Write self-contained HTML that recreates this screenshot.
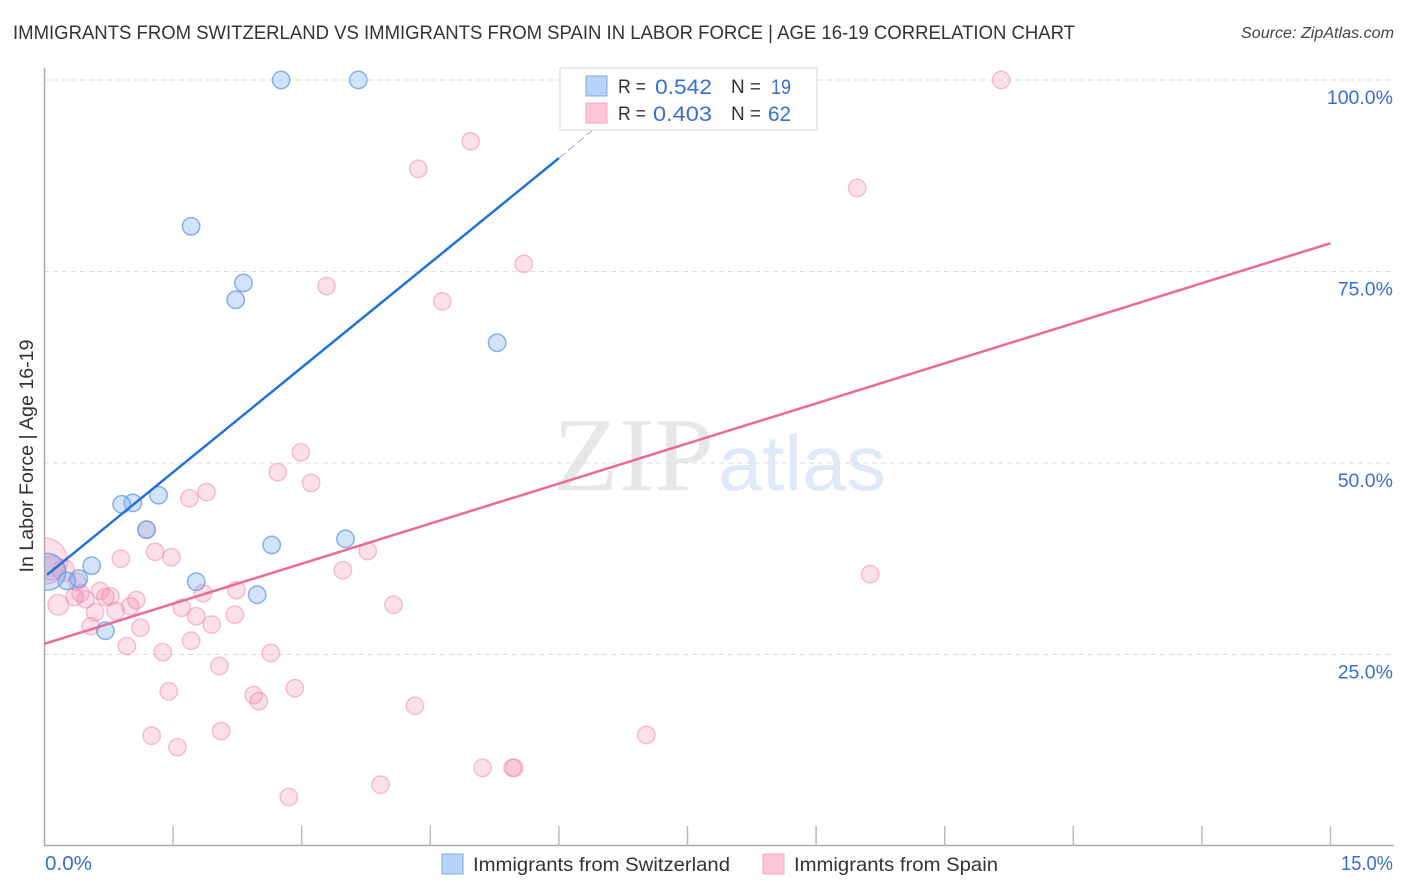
<!DOCTYPE html>
<html lang="en">
<head>
<meta charset="utf-8">
<title>Immigrants from Switzerland vs Immigrants from Spain in Labor Force | Age 16-19 Correlation Chart</title>
<style>
  html, body { margin: 0; padding: 0; background: #fff; }
  svg { display: block; font-family: "Liberation Sans", sans-serif; }
</style>
</head>
<body>
<svg id="chart" xmlns="http://www.w3.org/2000/svg" width="1406" height="892" viewBox="0 0 1406 892">
  <rect x="0" y="0" width="1406" height="892" fill="#fff"></rect>
  <text x="13" y="39" font-size="19.5" fill="#333" textLength="1062" lengthAdjust="spacingAndGlyphs">IMMIGRANTS FROM SWITZERLAND VS IMMIGRANTS FROM SPAIN IN LABOR FORCE | AGE 16-19 CORRELATION CHART</text>
  <text x="1241" y="38" font-size="15.5" font-style="italic" fill="#444" textLength="153" lengthAdjust="spacingAndGlyphs">Source: ZipAtlas.com</text>
  <g>
    <text x="553" y="490" font-family="'Liberation Serif', serif" font-size="105" fill="#e7e7e7" textLength="161" lengthAdjust="spacingAndGlyphs">ZIP</text>
    <text x="718" y="490" font-size="78" fill="#dfe9f8" textLength="168" lengthAdjust="spacingAndGlyphs">atlas</text>
  </g>
  <g id="grid"></g>
  <g id="pink-points"></g>
  <g id="blue-points"></g>
  <rect x="0" y="520" width="44" height="100" fill="#fff"></rect>
  <g id="axes"></g>
  <g id="trends"></g>
  <g id="labels"></g>
  <text transform="translate(33,456) rotate(-90)" font-size="19.5" fill="#333" text-anchor="middle" textLength="233" lengthAdjust="spacingAndGlyphs">In Labor Force | Age 16-19</text>

  <g>
    <rect x="560" y="68" width="257" height="62" fill="#fff" fill-opacity="0.9" stroke="#e2e2e2" stroke-width="1.5"></rect>
    <rect x="586" y="76" width="21" height="20" fill="#b9d3f8" stroke="#7ea9e1" stroke-width="1"></rect>
    <rect x="586" y="103" width="21" height="20" fill="#fdc7d7" stroke="#f3a7c1" stroke-width="1"></rect>
    <g font-size="19" fill="#333">
      <text x="618" y="93" textLength="28" lengthAdjust="spacingAndGlyphs">R =</text>
      <text x="618" y="120" textLength="28" lengthAdjust="spacingAndGlyphs">R =</text>
      <text x="731" y="93" textLength="30" lengthAdjust="spacingAndGlyphs">N =</text>
      <text x="731" y="120" textLength="30" lengthAdjust="spacingAndGlyphs">N =</text>
    </g>
    <g font-size="21" fill="#3a6fd0">
      <text x="655" y="94" textLength="57" lengthAdjust="spacingAndGlyphs">0.542</text>
      <text x="653" y="121" textLength="59" lengthAdjust="spacingAndGlyphs">0.403</text>
      <text x="771" y="94" textLength="20" lengthAdjust="spacingAndGlyphs">19</text>
      <text x="768" y="121" textLength="23" lengthAdjust="spacingAndGlyphs">62</text>
    </g>
  </g>

  <g>
    <rect x="442" y="854" width="21" height="20" fill="#b9d3f8" stroke="#7ea9e1" stroke-width="1"></rect>
    <text x="473" y="871" font-size="19.5" fill="#333" textLength="257" lengthAdjust="spacingAndGlyphs">Immigrants from Switzerland</text>
    <rect x="763" y="854" width="21" height="20" fill="#fdc7d7" stroke="#f3a7c1" stroke-width="1"></rect>
    <text x="794" y="871" font-size="19.5" fill="#333" textLength="204" lengthAdjust="spacingAndGlyphs">Immigrants from Spain</text>
  </g>
</svg>

<script>
var yTickValues = [25, 50, 75, 100];
var yTickLabels = ["25.0%", "50.0%", "75.0%", "100.0%"];
var xTickValues = [1.5, 3, 4.5, 6, 7.5, 9, 10.5, 12, 13.5, 15];
var xEndValues = [0, 15];
var xEndLabels = ["0.0%", "15.0%"];

var blueX = [2.76, 3.66, 1.71, 2.32, 2.23, 5.28, 1.33, 1.03, 0.90, 1.19, 2.65, 3.51, 0.55, 0.40, 0.26, 1.77, 2.48, 0.71, 0.03];
var blueY = [100, 100, 80.9, 73.5, 71.3, 65.7, 45.8, 44.8, 44.6, 41.3, 39.3, 40.1, 36.6, 34.9, 34.6, 34.5, 32.8, 28.1, 35.8];
var blueWeight = [1, 1, 1, 1, 1, 1, 1, 1, 1, 1, 1, 1, 1, 1, 1, 1, 1, 1, 4.5];

var pinkX = [11.16, 4.97, 4.36, 9.48, 5.59, 3.29, 4.64, 2.99, 2.72, 3.11, 1.89, 1.69, 1.19, 0.89, 1.29, 1.48, 3.77, 3.48, 9.63, 4.07, 2.24, 1.85, 1.60, 1.77, 1.95, 2.22, 1.71, 2.64, 2.04, 1.38, 0.96, 1.12, 0.54, 0.83, 0.59, 1.00, 1.07, 0.65, 0.77, 0.71, 0.48, 0.42, 0.35, 0.16, 0.22, 1.45, 2.44, 2.50, 2.92, 1.25, 1.55, 2.06, 2.85, 3.92, 4.32, 5.11, 5.46, 5.48, 7.02, 0.00, 0.38, 0.09];
var pinkY = [100, 92.0, 88.4, 85.9, 76.0, 73.1, 71.1, 51.4, 48.8, 47.4, 46.2, 45.4, 41.3, 37.5, 38.4, 37.7, 38.5, 36.0, 35.5, 31.5, 33.4, 33.0, 31.1, 30.0, 28.9, 30.2, 26.8, 25.2, 23.5, 25.3, 26.1, 28.5, 28.7, 30.7, 30.5, 31.3, 32.1, 33.3, 32.6, 32.5, 32.2, 33.0, 32.5, 31.5, 36.0, 20.2, 19.7, 18.9, 20.6, 14.4, 12.9, 15.0, 6.4, 8.0, 18.3, 10.2, 10.2, 10.2, 14.5, 37.2, 34.5, 36.3];
var pinkWeight = [1, 1, 1, 1, 1, 1, 1, 1, 1, 1, 1, 1, 1, 1, 1, 1, 1, 1, 1, 1, 1, 1, 1, 1, 1, 1, 1, 1, 1, 1, 1, 1, 1, 1, 1, 1, 1, 1, 1, 1, 1, 1, 1, 1.4, 1.6, 1, 1, 1, 1, 1, 1, 1, 1, 1, 1, 1, 1, 1, 1, 7, 1, 1.9];

var blueTrendX = [0.03, 6.0];
var blueTrendY = [35.4, 89.8];
var blueTrendExtX = [6.0, 7.07];
var blueTrendExtY = [89.8, 99.7];
var pinkTrendX = [0, 15];
var pinkTrendY = [26.4, 78.7];

var SVGNS = "http://www.w3.org/2000/svg";
function xScale(v) { return 44.5 + v * (1330.5 - 44.5) / 15; }
function yScale(v) { return 846 - v * (846 - 80) / 100; }
function rScale(w) { return 8.7 * Math.sqrt(w); }
function make(tag, attrs, parent) {
  var el = document.createElementNS(SVGNS, tag);
  for (var k in attrs) { el.setAttribute(k, attrs[k]); }
  parent.appendChild(el);
  return el;
}

var grid = document.getElementById("grid");
var axes = document.getElementById("axes");
var labels = document.getElementById("labels");
var pinkLayer = document.getElementById("pink-points");
var blueLayer = document.getElementById("blue-points");
var trends = document.getElementById("trends");

yTickValues.forEach(function (v, i) {
  var line = make("line", { x1: 44, x2: 1394, y1: yScale(v), y2: yScale(v), stroke: "#dedede", "stroke-width": 1, "stroke-dasharray": "5 4" }, grid);
  
  
  var t = make("text", { x: 1393, y: yScale(v) + 24, "text-anchor": "end", "font-size": 19.5, fill: "#3a6fd0" }, labels);
  t.textContent = yTickLabels[i];
  
  
});

var yAxis = make("line", { x1: 44.5, x2: 44.5, y1: 68, y2: 846, stroke: "#aaa", "stroke-width": 1.5 }, axes);


var xAxis = make("line", { x1: 44, x2: 1394, y1: 845.5, y2: 845.5, stroke: "#aaa", "stroke-width": 1.5 }, axes);



xTickValues.forEach(function (v) {
  var tick = make("line", { x1: xScale(v), x2: xScale(v), y1: 826, y2: 846, stroke: "#bbb", "stroke-width": 1.5 }, axes);
  
  
});

xEndValues.forEach(function (v, i) {
  var t = make("text", { x: i === 0 ? 45 : 1341, y: 870, "font-size": 20, fill: "#3a6fd0", textLength: i === 0 ? 47 : 52, lengthAdjust: "spacingAndGlyphs" }, labels);
  t.textContent = xEndLabels[i];
  
  
});

pinkX.forEach(function (v, i) {
  var c = make("circle", { cx: xScale(v), cy: yScale(pinkY[i]), r: rScale(pinkWeight[i]), fill: "#f48fb1", "fill-opacity": 0.28, stroke: "#ee7fa4", "stroke-opacity": 0.45, "stroke-width": 1.5 }, pinkLayer);
  
  
});

blueX.forEach(function (v, i) {
  var c = make("circle", { cx: xScale(v), cy: yScale(blueY[i]), r: rScale(blueWeight[i]), fill: "#7fb0f0", "fill-opacity": 0.35, stroke: "#5a97e3", "stroke-opacity": 0.7, "stroke-width": 1.5 }, blueLayer);
  
  
});

var blueTrend = make("line", { x1: xScale(blueTrendX[0]), y1: yScale(blueTrendY[0]), x2: xScale(blueTrendX[1]), y2: yScale(blueTrendY[1]), stroke: "#2472d8", "stroke-width": 2.5 }, trends);


var blueExt = make("line", { x1: xScale(blueTrendExtX[0]), y1: yScale(blueTrendExtY[0]), x2: xScale(blueTrendExtX[1]), y2: yScale(blueTrendExtY[1]), stroke: "#7fa3cc", "stroke-width": 0.8, "stroke-dasharray": "8 4" }, trends);


var pinkTrend = make("line", { x1: xScale(pinkTrendX[0]), y1: yScale(pinkTrendY[0]), x2: xScale(pinkTrendX[1]), y2: yScale(pinkTrendY[1]), stroke: "#e96b97", "stroke-width": 2.5 }, trends);


</script>
</body>
</html>
